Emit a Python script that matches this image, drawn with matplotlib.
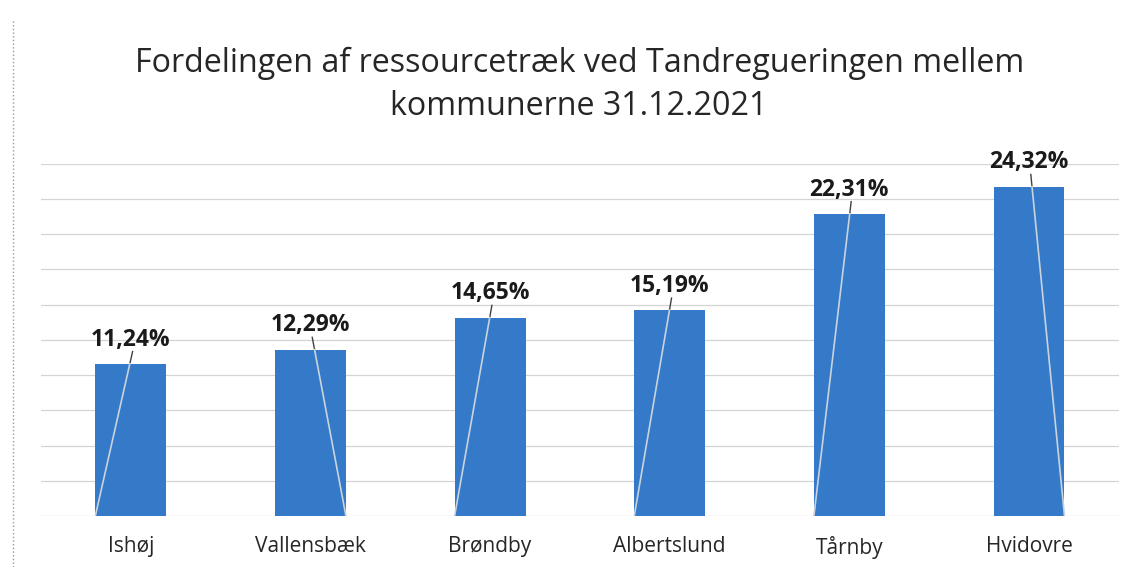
import numpy as np
from matplotlib import pyplot as plt
from matplotlib.lines import Line2D

# data
kommuner = ['Ishøj', 'Vallensbæk', 'Brøndby', 'Albertslund', 'Tårnby', 'Hvidovre']
andel = [0.1124, 0.1229, 0.1465, 0.1519, 0.2231, 0.2432]
labels = ['11,24%', '12,29%', '14,65%', '15,19%', '22,31%', '24,32%']
leader_side = [-1, 1, -1, -1, -1, 1]  # which bottom corner the leader line goes to

bar_color = '#3579c9'
bar_width = 0.395

plt.rcParams['font.family'] = ['Open Sans', 'DejaVu Sans']

fig = plt.figure(figsize=(11.29, 5.67), dpi=100)
ax = fig.add_axes([0.0363, 0.09, 0.9547, 0.621])

x = np.arange(len(kommuner))
ax.bar(x, andel, width=bar_width, color=bar_color, zorder=2)

ax.set_xlim(-0.5, len(kommuner) - 0.5)
ax.set_ylim(0, 0.26)
ax.set_yticks(np.linspace(0, 0.26, 11))
ax.yaxis.grid(True, color='#d4d4d4', linewidth=0.9, zorder=0)
ax.tick_params(axis='y', left=False, labelleft=False)
ax.tick_params(axis='x', bottom=False, pad=11)
ax.set_xticks(x)
ax.set_xticklabels(kommuner, fontsize=15, color='#262626')
for side in ['top', 'right', 'left', 'bottom']:
    ax.spines[side].set_visible(False)

# data labels with leader lines
gap = 0.009
for i, (v, lab, s) in enumerate(zip(andel, labels, leader_side)):
    ax.text(i, v + gap, lab, ha='center', va='bottom', fontsize=16.5,
            fontweight='bold', color='#1a1a1a')
    x0, y0 = i + 0.01, v + gap
    x1, y1 = i + s * bar_width / 2, 0
    t = (y0 - v) / (y0 - y1)
    xm = x0 + t * (x1 - x0)
    ax.plot([x0, xm], [y0, v], color='#404040', linewidth=1, zorder=3)
    ax.plot([xm, x1], [v, y1], color='#c9d3de', linewidth=1.2, zorder=3)

fig.text(0.513, 0.85, 'Fordelingen af ressourcetræk ved Tandregueringen mellem\nkommunerne 31.12.2021',
         ha='center', va='center', fontsize=23.2, color='#262626', linespacing=1.38)

# scanned chart border
fig.add_artist(Line2D([0.0115, 0.0115], [0.0, 0.965], color='#9a9a9a',
                      linewidth=1, linestyle=':', transform=fig.transFigure))

fig.savefig('out.png', dpi=100)
